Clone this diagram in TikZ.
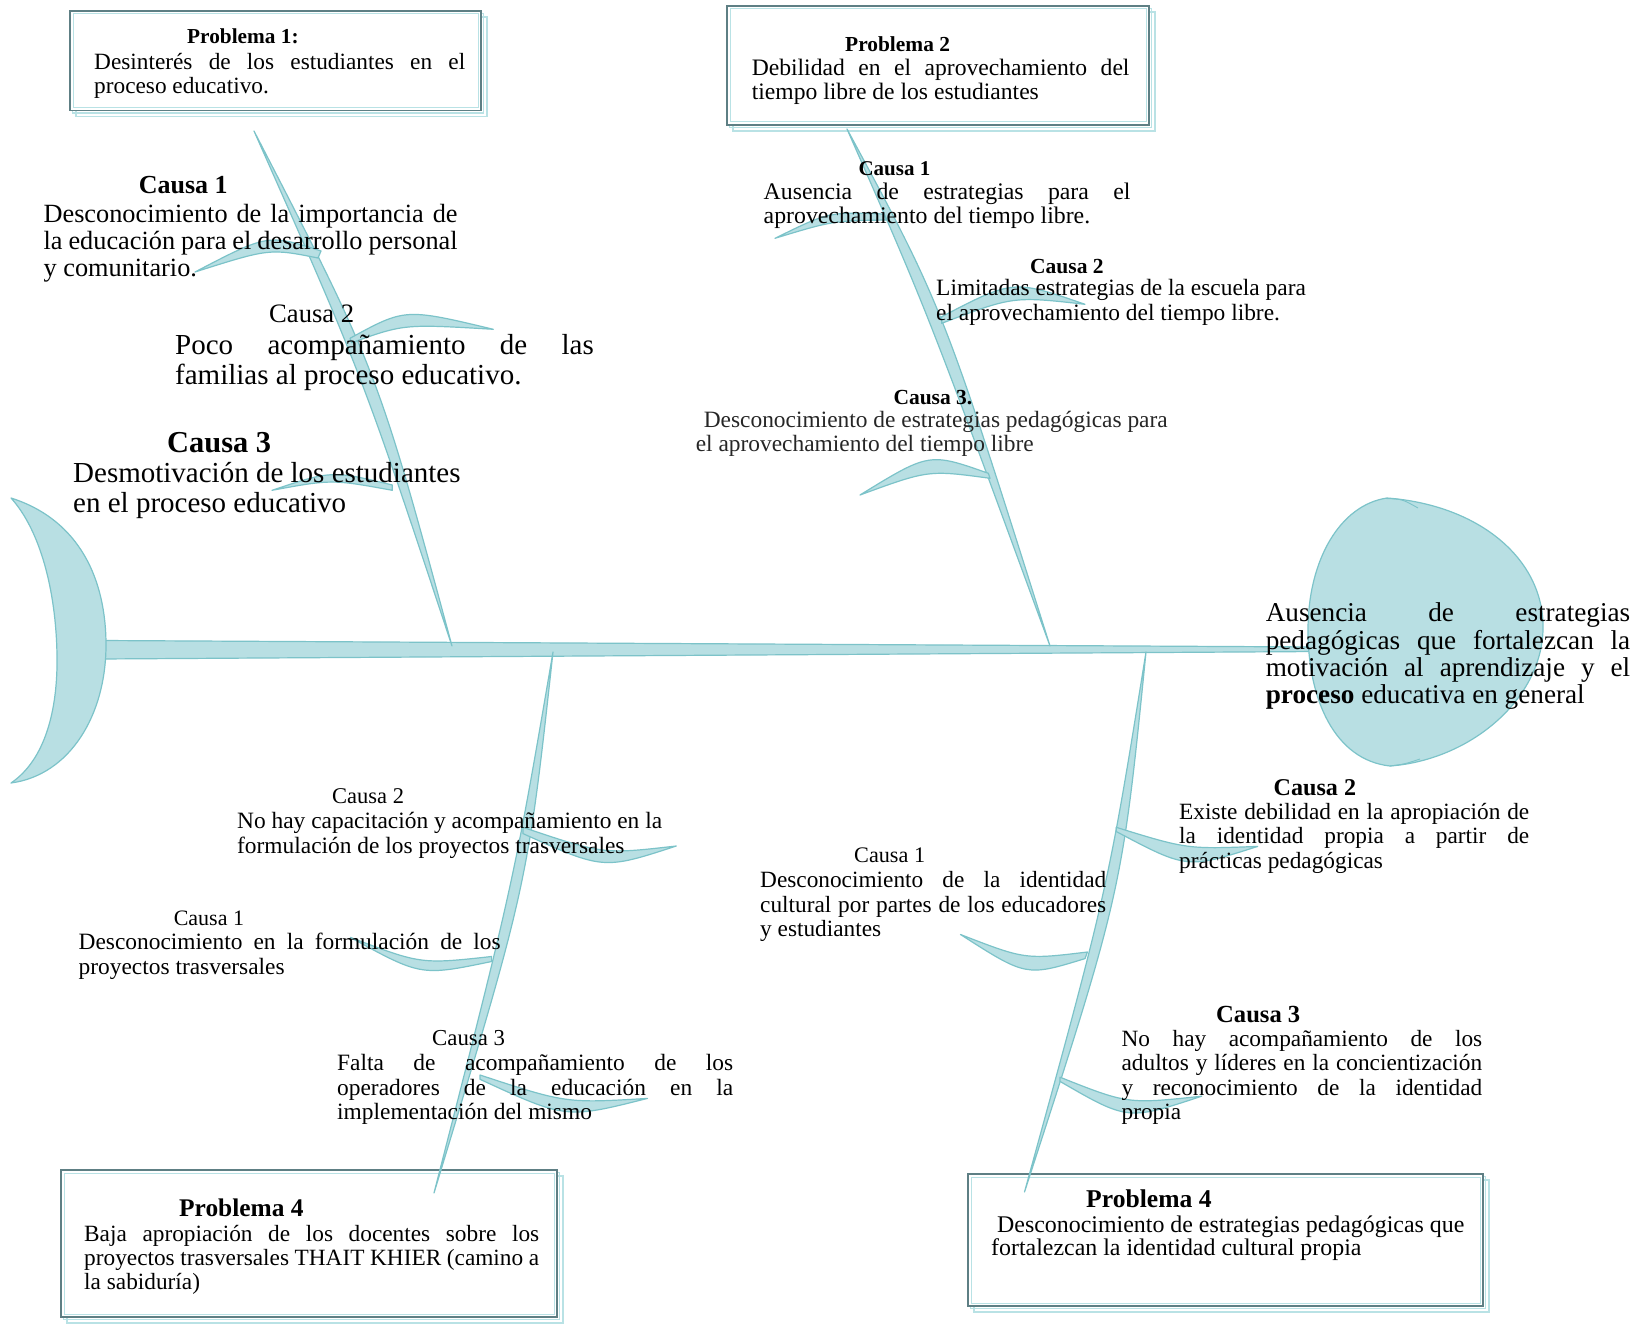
\documentclass[tikz,border=0pt]{standalone}
\usepackage{fontspec}
\setmainfont{Liberation Serif}
\definecolor{bonefill}{HTML}{B8DFE3}
\definecolor{bonedraw}{HTML}{7CC3C9}
\definecolor{framedark}{HTML}{5E7F84}
\definecolor{framelight}{HTML}{B9E2E5}
\newcommand\fsz[2]{\fontsize{#1}{#2}\selectfont}
\newcommand\jl[2]{\makebox[#1pt][s]{#2}}
\newcommand\tb[1]{\begin{tabular}[t]{@{}l@{}}#1\end{tabular}}
\newcommand\fishrib[5]{\draw[bone] (#1) .. controls (#2) .. (#3) -- (#4) .. controls (#5) .. (#1) -- cycle;}
\newcommand\probbox[4]{%
  \draw[shadowln] (#1+2.5,#2+2.5) rectangle (#3+2.5,#4+2.5);
  \draw[shadowln] (#1+6,#2+6) rectangle (#3+6,#4+6);
  \draw[framedark, line width=1.8pt, fill=white] (#1,#2) rectangle (#3,#4);
  \draw[framelight, line width=1pt] (#1+3,#2+3) rectangle (#3-3,#4-3);}
\begin{document}
\begin{tikzpicture}[x=1pt,y=-1pt,
  bone/.style={fill=bonefill, draw=bonedraw, line width=1.2pt, line join=round},
  shadowln/.style={draw=framelight, line width=1.2pt},
  txt/.style={inner sep=0pt, anchor=base west}]
\useasboundingbox (0,0) rectangle (1642,1324);
\fill[white] (0,0) rectangle (1642,1324);

% ---------- boxes ----------
\probbox{70}{11}{481}{110.5}
\probbox{727}{6}{1149}{125}
\probbox{61}{1170}{557}{1317}
\probbox{968}{1174}{1483}{1306}

% ---------- spine ----------
\draw[bone] (100,640.5) -- (1320,647) -- (1320,651.5) -- (100,659) -- cycle;

% ---------- bones ----------
\draw[bone] (254,131) .. controls (362.6,375.9) .. (452,646) .. controls (377.4,370.1) .. (254,131) -- cycle;
\draw[bone] (847,129) .. controls (928,313) .. (1050,646) .. controls (943,307) .. (847,129) -- cycle;
\draw[bone] (553,652) .. controls (513.7,882) .. (434,1193) .. controls (527.5,885) .. (553,652) -- cycle;
\draw[bone] (1146,652) .. controls (1108,888.5) .. (1024.5,1192) .. controls (1122,891.5) .. (1146,652) -- cycle;

% ---------- ribs ----------
\fishrib{195,272}{268,233.9}{321,251}{318,258}{269.5,248.4}
\fishrib{493.3,329.3}{405,308.2}{350,338.3}{351.7,342.7}{404.1,324}
\fishrib{272,490.3}{331.85,470.35}{392.3,485}{392.3,490.3}{331.85,479.3}
\fishrib{775,238.3}{828.85,211.85}{883.3,214}{886.7,220}{832.55,220.85}
\fishrib{1085,304.3}{1013.25,279.5}{941.7,316.7}{941.7,323.3}{1013.25,296.2}
\fishrib{860,495}{929.25,452.45}{988.3,473.3}{990,478.3}{928.4,469.95}
\fishrib{676.3,846}{603.35,854.35}{523,827.3}{523,833.6}{603.35,869.8}
\fishrib{350.4,937.4}{421,964.25}{491.6,956.5}{491.6,961.5}{421,976.15}
\fishrib{647.5,1098.4}{566.05,1103.3}{480,1075}{480,1079.3}{566.05,1118.95}
\fishrib{1257.7,846.4}{1187.05,849.15}{1116.2,827.3}{1116.2,831.5}{1187.05,869.05}
\fishrib{960.5,934.5}{1025.05,959.55}{1087.4,952}{1085,958.6}{1026.25,976.65}
\fishrib{1201.7,1096.2}{1127.75,1104.1}{1060,1077.2}{1060,1081.4}{1127.75,1120.6}

% ---------- tail ----------
\draw[bone] (11,498) .. controls (80,520) and (106,580) .. (106,645)
  .. controls (106,715) and (70,775) .. (11,783)
  .. controls (45,760) and (58,710) .. (57,655)
  .. controls (56,590) and (40,530) .. (11,498) -- cycle;

% ---------- head ----------
\draw[bone] (1387,498) .. controls (1480,505) and (1545,560) .. (1543,630)
  .. controls (1541,700) and (1470,760) .. (1390,766)
  .. controls (1335,760) and (1308,700) .. (1308,630)
  .. controls (1308,560) and (1340,505) .. (1387,498) -- cycle;
\draw[bonedraw, line width=0.9pt] (1385,498.5) .. controls (1402,499) .. (1418,508);
\draw[bonedraw, line width=0.9pt] (1390,766) .. controls (1405,764) .. (1420,759);

% ---------- texts: problem 1 ----------
\node[txt] (p1h) at (187,44) {\fsz{21.3}{24}\bfseries Problema 1:};
\node[txt] (p1b) at (94,69.4) {\fsz{23.3}{24.4}\tb{\jl{371}{Desinterés de los estudiantes en el}\\ proceso educativo.}};

% ---------- problem 2 ----------
\node[txt] (p2h) at (845,52) {\fsz{21.4}{24}\bfseries Problema 2};
\node[txt] (p2b) at (751.6,76) {\fsz{23.6}{24}\tb{\jl{377.7}{Debilidad en el aprovechamiento del}\\ tiempo libre de los estudiantes}};

% ---------- upper left causes ----------
\node[txt] (c11h) at (138.6,193.6) {\fsz{26}{28}\bfseries Causa 1};
\node[txt] (c11b) at (43.4,222.5) {\fsz{26.3}{26.8}\tb{\jl{414}{Desconocimiento de la importancia de}\\ \jl{414}{la educación para el desarrollo personal}\\ y comunitario.}};
\node[txt] (c12h) at (269,323) {\fsz{26.6}{28}Causa 2};
\node[txt] (c12b) at (175,355) {\fsz{29}{30}\tb{\jl{418.6}{Poco acompañamiento de las}\\ familias al proceso educativo.}};
\node[txt] (c13h) at (167,452.8) {\fsz{30.4}{32}\bfseries Causa 3};
\node[txt] (c13b) at (73,482.2) {\fsz{29}{30.3}\tb{Desmotivación de los estudiantes\\ en el proceso educativo}};

% ---------- upper right causes ----------
\node[txt] (c21h) at (858.3,176) {\fsz{21}{24}\bfseries Causa 1};
\node[txt] (c21b) at (763.5,200) {\fsz{23.8}{24}\tb{\jl{366.7}{Ausencia de estrategias para el}\\ aprovechamiento del tiempo libre.}};
\node[txt] (c22h) at (1030,273.3) {\fsz{21.5}{24}\bfseries Causa 2};
\node[txt] (c22b) at (936,296) {\fsz{23.4}{24.7}\tb{Limitadas estrategias de la escuela para\\ el aprovechamiento del tiempo libre.}};
\node[txt] (c23h) at (893.3,405) {\fsz{21.5}{24}\bfseries Causa 3.};
\node[txt, text=black!85] (c23b) at (695.6,427.3) {\fsz{23.4}{24.4}\tb{\hspace*{8pt}Desconocimiento de estrategias pedagógicas para\\ el aprovechamiento del tiempo libre}};

% ---------- head text ----------
\node[txt] (headt) at (1265.6,621.7) {\fsz{27.2}{27.3}\tb{\jl{364.4}{Ausencia de estrategias}\\ \jl{364.4}{pedagógicas que fortalezcan la}\\ \jl{364.4}{motivación al aprendizaje y el}\\ \textbf{proceso} educativa en general}};

% ---------- lower left causes ----------
\node[txt] (c31h) at (332,803.5) {\fsz{22.5}{24}Causa 2};
\node[txt] (c31b) at (237,828.3) {\fsz{23.4}{25}\tb{No hay capacitación y acompañamiento en la\\ formulación de los proyectos trasversales}};
\node[txt] (c32h) at (173.6,925) {\fsz{22}{24}Causa 1};
\node[txt] (c32b) at (78.5,949.5) {\fsz{23.4}{24.5}\tb{\jl{422}{Desconocimiento en la formulación de los}\\ proyectos trasversales}};
\node[txt] (c33h) at (432,1045.4) {\fsz{22.8}{24}Causa 3};
\node[txt] (c33b) at (337,1070.8) {\fsz{23.4}{24.5}\tb{\jl{396}{Falta de acompañamiento de los}\\ \jl{396}{operadores de la educación en la}\\ implementación del mismo}};
\node[txt] (p3h) at (179,1216) {\fsz{25.4}{26}\bfseries Problema 4};
\node[txt] (p3b) at (84,1241.5) {\fsz{23.3}{24.2}\tb{\jl{455}{Baja apropiación de los docentes sobre los}\\ \jl{455}{proyectos trasversales THAIT KHIER (camino a}\\ la sabiduría)}};

% ---------- lower right causes ----------
\node[txt] (c41h) at (1273.5,795) {\fsz{24.1}{26}\bfseries Causa 2};
\node[txt] (c41b) at (1179,819) {\fsz{23.3}{24.7}\tb{\jl{350}{Existe debilidad en la apropiación de}\\ \jl{350}{la identidad propia a partir de}\\ prácticas pedagógicas}};
\node[txt] (c42h) at (854,862.5) {\fsz{22.2}{24}Causa 1};
\node[txt] (c42b) at (760,887.5) {\fsz{23.3}{24.7}\tb{\jl{346}{Desconocimiento de la identidad}\\ \jl{346}{cultural por partes de los educadores}\\ y estudiantes}};
\node[txt] (c43h) at (1216,1022) {\fsz{24.6}{26}\bfseries Causa 3};
\node[txt] (c43b) at (1121.4,1046.5) {\fsz{23.3}{24.3}\tb{\jl{360.6}{No hay acompañamiento de los}\\ \jl{360.6}{adultos y líderes en la concientización}\\ \jl{360.6}{y reconocimiento de la identidad}\\ propia}};
\node[txt] (p4h) at (1086,1207.8) {\fsz{25.6}{26}\bfseries Problema 4};
\node[txt] (p4b) at (991,1232) {\fsz{23.9}{23.3}\tb{\hspace*{6pt}Desconocimiento de estrategias pedagógicas que\\ fortalezcan la identidad cultural propia}};
\end{tikzpicture}
\end{document}
